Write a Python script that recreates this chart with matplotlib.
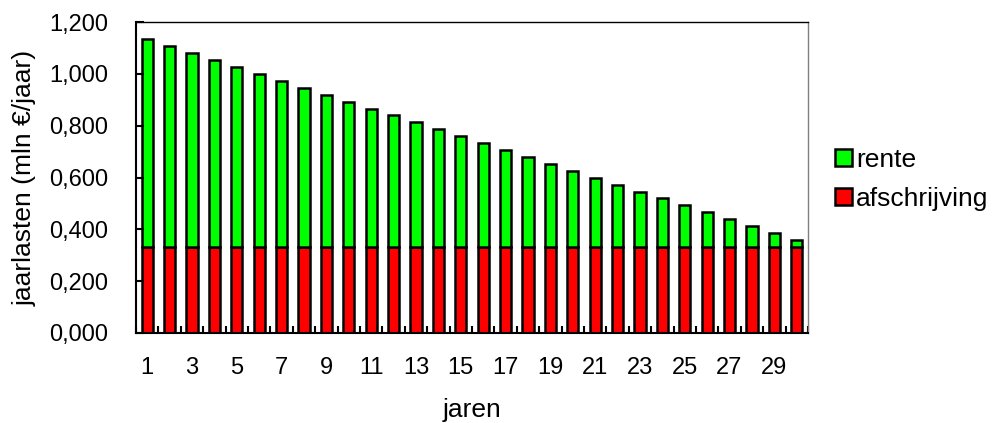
import matplotlib
matplotlib.use("Agg")
import matplotlib.pyplot as plt
from matplotlib.patches import Patch

plt.rcParams['font.family'] = ['Liberation Sans', 'DejaVu Sans']

years = list(range(1, 31))
afschrijving = [0.333] * 30
rente = [0.800, 0.773, 0.747, 0.720, 0.693, 0.667, 0.640, 0.613, 0.587, 0.560,
         0.533, 0.507, 0.480, 0.453, 0.427, 0.400, 0.373, 0.347, 0.320, 0.293,
         0.267, 0.240, 0.213, 0.187, 0.160, 0.133, 0.107, 0.080, 0.053, 0.027]
y_ticks = [0.0, 0.2, 0.4, 0.6, 0.8, 1.0, 1.2]
x_labels = [str(y) for y in years if y % 2 == 1]

fig = plt.figure(figsize=(9.94, 4.23), dpi=100)
ax = fig.add_axes([0.1368, 0.2128, 0.676, 0.735])

ax.bar(years, afschrijving, width=0.5, color='#FF0000', edgecolor='black', linewidth=1.8)
ax.bar(years, rente, width=0.5, bottom=afschrijving, color='#00FF00', edgecolor='black', linewidth=1.8)

ax.set_xlim(0.5, 30.5)
ax.set_ylim(0, 1.2)

# y axis
ax.set_yticks(y_ticks)
ax.set_yticklabels([f"{v:.3f}".replace('.', ',') for v in y_ticks])
ax.tick_params(axis='y', direction='in', length=6, width=1.5, pad=20, labelsize=17)

# x axis: boundary ticks without labels, labels at odd years
ax.set_xticks([i + 0.5 for i in range(0, 31)])
ax.set_xticklabels([])
ax.tick_params(axis='x', which='major', direction='in', length=5, width=1.5)
ax.set_xticks([int(s) for s in x_labels], minor=True)
ax.set_xticklabels(x_labels, minor=True)
ax.tick_params(axis='x', which='minor', length=0, pad=17, labelsize=17)

for side in ('left', 'bottom'):
    ax.spines[side].set_linewidth(1.5)
ax.spines['top'].set_linewidth(1.0)
ax.spines['right'].set_linewidth(1.0)
ax.spines['right'].set_color('#808080')

ax.set_ylabel('jaarlasten (mln €/jaar)', fontsize=19, labelpad=9)
ax.set_xlabel('jaren', fontsize=19, labelpad=14)

handles = [Patch(facecolor='#00FF00', edgecolor='black', linewidth=1.8, label='rente'),
           Patch(facecolor='#FF0000', edgecolor='black', linewidth=1.8, label='afschrijving')]
fig.legend(handles=handles, loc='center left', bbox_to_anchor=(0.840, 0.576),
           frameon=False, fontsize=19, handlelength=0.65, handleheight=0.6,
           handletextpad=0.15, labelspacing=0.55, borderaxespad=0, borderpad=0)

fig.savefig('out.png', dpi=100)
